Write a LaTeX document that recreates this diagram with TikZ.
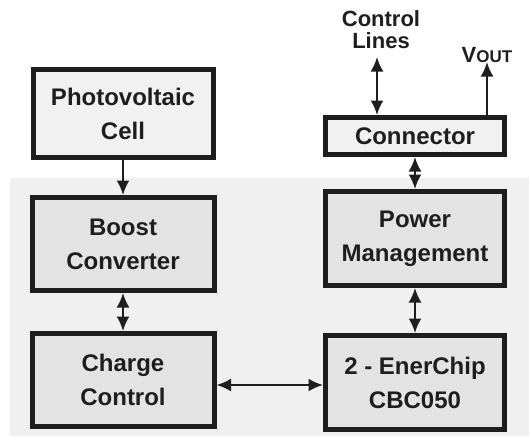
\documentclass[tikz,border=0pt]{standalone}
\usepackage{fontspec}
\setmainfont{Liberation Sans}
\usetikzlibrary{arrows.meta}
\definecolor{bgray}{HTML}{F0F0F0}
\definecolor{boxin}{HTML}{E3E3E3}
\definecolor{boxout}{HTML}{F1F1F1}
\definecolor{ink}{HTML}{1E1E1E}
\tikzset{
  blk/.style={draw=ink, line width=5pt, align=center, inner sep=0pt,
    font=\fontsize{24}{34}\selectfont\bfseries, text=ink},
  inblk/.style={blk, fill=boxin},
  outblk/.style={blk, fill=boxout},
  tip/.tip={Latex[length=14.5pt,width=13pt]},
  conn/.style={draw=ink, line width=2.2pt, -tip},
  bconn/.style={draw=ink, line width=2.2pt, tip-tip},
  lbl/.style={align=center, inner sep=0pt, text=ink, font=\fontsize{22}{22}\selectfont\bfseries}
}
\begin{document}
\begin{tikzpicture}[x=1pt,y=-1pt]
\useasboundingbox (0,0) rectangle (529,436);
\fill[bgray] (10,178) rectangle (529,436);
\node[outblk, minimum width=180, minimum height=88] (pv) at (123,113.5) {Photovoltaic\\Cell};
\node[inblk, minimum width=182, minimum height=93] (boost) at (123,244) {Boost\\Converter};
\node[inblk, minimum width=182, minimum height=93] (charge) at (123,380) {Charge\\Control};
\node[outblk, minimum width=179, minimum height=37] (connector) at (415,136) {Connector};
\node[inblk, minimum width=179, minimum height=94] (pm) at (415,238.5) {Power\\Management};
\node[inblk, minimum width=179, minimum height=94] (ener) at (415,382.5) {2 - EnerChip\\CBC050};
\node[lbl] (ctl) at (381,30) {Control\\Lines};
\node[lbl, anchor=base] (vout) at (487,62) {V{\fontsize{17}{17}\selectfont OUT}};
\coordinate (ctlend) at (377,57);
\coordinate (voutend) at (487,62);
\draw[conn] (pv.south) -- (boost.north);
\draw[bconn] (boost.south) -- (charge.north);
\draw[bconn] (connector.south) -- (pm.north);
\draw[bconn] (pm.south) -- (ener.north);
\draw[bconn] (charge.east |- 0,385) -- (ener.west |- 0,385);
\draw[bconn] (ctlend) -- (ctlend |- connector.north);
\draw[conn] (voutend |- connector.north) -- (voutend);
\end{tikzpicture}
\end{document}
